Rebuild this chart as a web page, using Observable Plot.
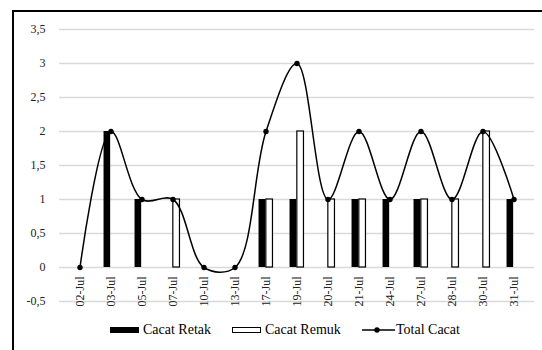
<!DOCTYPE html>
<html><head><meta charset="utf-8">
<script src="https://cdn.jsdelivr.net/npm/d3@7"></script>
<script src="https://cdn.jsdelivr.net/npm/@observablehq/plot@0.6"></script>
<style>
body{margin:0;background:#fff;font-family:'Liberation Serif',serif;}
#wrap{position:relative;width:542px;height:350px;overflow:hidden;font-family:'Liberation Serif',serif;background:#fff;}
#frame{position:absolute;left:12px;top:10px;width:600px;height:400px;border-left:2px solid #000;border-top:2px solid #000;box-sizing:border-box;}
#chart{position:absolute;left:0;top:0;}
.lg{position:absolute;font-family:'Liberation Serif',serif;font-size:14px;line-height:14px;top:323px;color:#000;white-space:nowrap;}
.sw{position:absolute;}
</style>
</head><body>
<div id="wrap">
  <div id="frame"></div>
  <div id="chart"></div>
  <div class="sw" style="left:110px;top:327px;width:29px;height:6px;background:#000;"></div>
  <div class="lg" style="left:143px;">Cacat Retak</div>
  <div class="sw" style="left:232px;top:327px;width:29px;height:6px;background:#fff;border:1px solid #000;box-sizing:border-box;"></div>
  <div class="lg" style="left:265px;">Cacat Remuk</div>
  <svg class="sw" style="left:362px;top:324px;" width="34" height="12"><line x1="0" y1="6" x2="33" y2="6" stroke="#000" stroke-width="1.5"/><circle cx="15" cy="6" r="2.7" fill="#000"/></svg>
  <div class="lg" style="left:396px;">Total Cacat</div>
</div>
<script>
const categories = ["02-Jul","03-Jul","05-Jul","07-Jul","10-Jul","13-Jul","17-Jul","19-Jul","20-Jul","21-Jul","24-Jul","27-Jul","28-Jul","30-Jul","31-Jul"];
const cacatRetak = [0,2,1,0,0,0,1,1,0,1,1,1,0,0,1];
const cacatRemuk = [0,0,0,1,0,0,1,2,1,1,0,1,1,2,0];
const totalCacat = [0,2,1,1,0,0,2,3,1,2,1,2,1,2,1];
const yTicks = [-0.5,0,0.5,1,1.5,2,2.5,3,3.5];

const retakData = categories.map((c,i)=>({cat:c, v:cacatRetak[i]})).filter(d=>d.v!==0);
const remukData = categories.map((c,i)=>({cat:c, v:cacatRemuk[i]})).filter(d=>d.v!==0);
const totalData = categories.map((c,i)=>({cat:c, v:totalCacat[i]}));
const fmt = d => String(d).replace(".", ",");

const bw = (542-59-8)/categories.length;
const chart = Plot.plot({
  width: 542, height: 315,
  marginLeft: 59, marginRight: 8, marginTop: 29, marginBottom: 14,
  style: {fontFamily: "'Liberation Serif', serif", background: "transparent", overflow: "visible"},
  x: {type: "band", domain: categories, padding: 0, axis: null},
  y: {domain: [-0.5, 3.5], axis: null},
  marks: [
    Plot.ruleY(yTicks, {stroke: "#d9d9d9", strokeWidth: 1.5}),
    Plot.text(yTicks, {y: d=>d, text: fmt, frameAnchor: "left", textAnchor: "end", dx: -14, fontSize: 12, fill: "#222"}),
    Plot.text(categories, {x: d=>d, y: d=>0, text: d=>d, rotate: -90, textAnchor: "end", dy: 9, fontSize: 12, fill: "#222"}),
    Plot.barY(retakData, {x: "cat", y: "v", fill: "#000", insetLeft: bw/2 - 7.3, insetRight: bw/2}),
    Plot.barY(remukData, {x: "cat", y: "v", fill: "#fff", stroke: "#000", strokeWidth: 1.2, insetLeft: bw/2, insetRight: bw/2 - 7.3}),
    Plot.line(totalData, {x: "cat", y: "v", curve: "catmull-rom", stroke: "#000", strokeWidth: 1.5}),
    Plot.dot(totalData, {x: "cat", y: "v", r: 2.7, fill: "#000", stroke: "none"})
  ]
});
document.getElementById("chart").appendChild(chart);
</script>
</body></html>
